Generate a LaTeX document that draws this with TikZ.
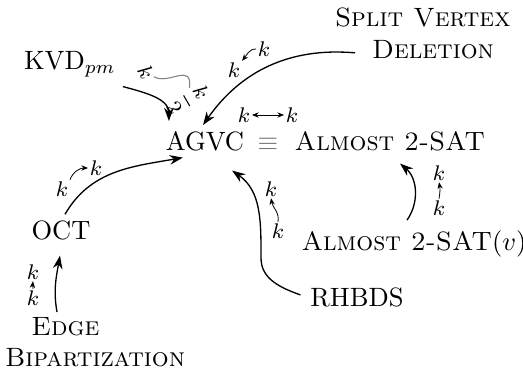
\documentclass[tikz,border=0pt]{standalone}
\usetikzlibrary{arrows.meta}
\begin{document}
\begin{tikzpicture}[x=0.3774pt, y=-0.3774pt,
  lbl/.style={inner sep=0pt, outer sep=0pt},
  kk/.style={font=\footnotesize, inner sep=0.5pt},
  conn/.style={line width=0.5pt, -{Stealth[length=5pt,width=3.6pt]}},
  kconn/.style={line width=0.3pt, -{Stealth[length=2.5pt,width=2pt]}},
  kboth/.style={line width=0.3pt, {Stealth[length=2.5pt,width=2pt]}-{Stealth[length=2.5pt,width=2pt]}},
]
\useasboundingbox (0,0) rectangle (523,371);

% problems
\node[lbl, anchor=base] (agvc) at (205,150) {AGVC};
\node[lbl, anchor=base, text=black!55] (eq) at (268,150) {$\equiv$};
\node[lbl, anchor=base] (a2) at (390,150) {\textsc{Almost 2-SAT}};
\node[lbl, anchor=base] (kvd) at (70,70) {KVD$_{pm}$};
\node[lbl, anchor=north west, align=left] (svd) at (335,8)
  {\textsc{Split Vertex}\\\hspace*{14pt}\textsc{Deletion}};
\node[lbl, anchor=base] (oct) at (61,239) {OCT};
\node[lbl, anchor=north west, align=left] (eb) at (5,317)
  {\hspace*{10pt}\textsc{Edge}\\\textsc{Bipartization}};
\node[lbl, anchor=base] (rh) at (357,306) {RHBDS};
\node[lbl, anchor=base] (a2v) at (414,250) {\textsc{Almost 2-SAT}($v$)};

% reductions
\coordinate (rhbend) at (261,258);
\draw[conn] ([shift={(7,9)}]kvd.south east) to[out=-15, in=90] ([shift={(3,-10)}]agvc.north west);
\draw[conn] ([shift={(20,-6)}]svd.south west) to[out=175, in=55] ([shift={(-2,-6)}]agvc.north);
\draw[conn] ([shift={(4,-6)}]oct.north) to[out=60, in=190] ([shift={(17,7)}]agvc.south west);
\draw[conn] ([shift={(52,-5)}]eb.north west) to[out=100, in=-100] ([shift={(-1,16)}]oct.south);
\draw[conn] ([shift={(-10,-2)}]rh.west) to[out=160, in=-90] (rhbend) to[out=90, in=-35] ([shift={(-12,20)}]agvc.south east);
\draw[conn] ([shift={(-7,-10)}]a2v.north) to[out=55, in=-40] ([shift={(10,13)}]a2.south);

% parameter changes
\node[kk, rotate=-60] (kvda) at (146,72) {$k$};
\node[kk, rotate=-60, inner sep=0pt] (kvdb) at (188,100) {${\displaystyle\frac{k}{2}}$};
\draw[gray, line width=0.4pt] (kvda) to[out=-15, in=115] (kvdb);

\node[kk] (ksa) at (264,49) {$k$};
\node[kk] (ksb) at (234,70) {$k$};
\draw[kconn] (ksa.west) to[out=180, in=50] (ksb.north east);

\node[kk] (kea) at (244,115) {$k$};
\node[kk] (keb) at (292,115) {$k$};
\draw[kboth] (kea) -- (keb);

\node[kk] (koa) at (62,189) {$k$};
\node[kk] (kob) at (96,168) {$k$};
\draw[kconn] (koa.north east) to[out=70, in=180] (kob.west);

\node[kk] (kba) at (33,298) {$k$};
\node[kk] (kbb) at (33,272) {$k$};
\draw[kconn] (kba.north) to[out=95, in=-95] (kbb.south);

\node[kk] (kra) at (278,231) {$k$};
\node[kk] (krb) at (271,189) {$k$};
\draw[kconn] (kra.north) to[out=80, in=-80] (krb.south);

\node[kk] (kaa) at (439,208) {$k$};
\node[kk] (kab) at (439,173) {$k$};
\draw[kconn] (kaa.north) to[out=80, in=-80] (kab.south);
\end{tikzpicture}
\end{document}
